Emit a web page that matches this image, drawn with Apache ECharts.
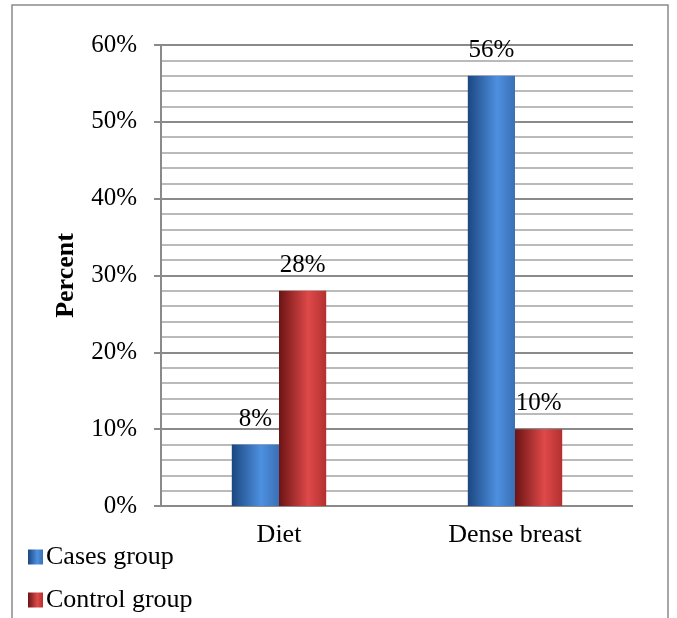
<!DOCTYPE html>
<html>
<head>
<meta charset="utf-8">
<script src="https://cdn.jsdelivr.net/npm/echarts@6/dist/echarts.min.js"></script>
<style>
  html, body { margin: 0; padding: 0; background: #fff; }
  #chart { width: 677px; height: 618px; }
</style>
</head>
<body>
<div id="chart"></div>
<script>
// Risk factors by group (percent)
var categories = ['Diet', 'Dense breast'];
var casesGroup = [8, 56];
var controlGroup = [28, 10];
var seriesNames = ['Cases group', 'Control group'];
var yTicks = [0, 10, 20, 30, 40, 50, 60];

var FONT = '"Liberation Serif", "Times New Roman", serif';

// Horizontal shading that gives the bars a rounded, cylinder-like look
function barGradient(dark, light, edge) {
  return new echarts.graphic.LinearGradient(0, 0, 1, 0, [
    { offset: 0, color: dark },
    { offset: 0.62, color: light },
    { offset: 1, color: edge }
  ]);
}

var chart = echarts.init(document.getElementById('chart'), null, { renderer: 'canvas' });

var labelStyle = {
  show: true,
  position: 'top',
  distance: 13,
  formatter: '{c}%',
  fontFamily: FONT,
  fontSize: 25,
  color: '#000'
};

chart.setOption({
  animation: false,
  backgroundColor: '#fff',
  graphic: [{
    type: 'rect',
    shape: { x: 12, y: 5, width: 656, height: 640 },
    style: { fill: 'none', stroke: '#8a8a8a', lineWidth: 1.5 },
    silent: true,
    z: -1
  }],
  grid: { left: 161, right: 44, top: 45, bottom: 112, containLabel: false },
  legend: {
    orient: 'vertical',
    left: 28,
    top: 544,
    bottom: 0,
    padding: 0,
    itemWidth: 15,
    itemHeight: 15,
    itemGap: 17,
    icon: 'rect',
    textStyle: { fontFamily: FONT, fontSize: 26, lineHeight: 26, color: '#000', padding: [0, 0, 0, -2] },
    data: seriesNames
  },
  xAxis: {
    type: 'category',
    data: categories,
    axisLine: { show: false },
    axisTick: { show: false },
    axisLabel: { fontFamily: FONT, fontSize: 26, color: '#000', margin: 16 }
  },
  yAxis: {
    type: 'value',
    min: yTicks[0],
    max: yTicks[yTicks.length - 1],
    interval: 10,
    name: 'Percent',
    nameLocation: 'middle',
    nameGap: 82,
    nameRotate: 90,
    nameTextStyle: { fontFamily: FONT, fontSize: 26, fontWeight: 'bold', color: '#000' },
    axisLine: { show: true, lineStyle: { color: '#8a8a8a', width: 2 } },
    axisTick: { show: true, length: 7, lineStyle: { color: '#8a8a8a', width: 2 } },
    axisLabel: { formatter: '{value}%', fontFamily: FONT, fontSize: 25, color: '#000', margin: 24 },
    splitLine: { show: true, lineStyle: { color: '#8a8a8a', width: 2 } },
    minorTick: { show: false, splitNumber: 5 },
    minorSplitLine: { show: true, lineStyle: { color: '#bababa', width: 2 } }
  },
  series: [
    {
      name: seriesNames[0],
      type: 'bar',
      data: casesGroup,
      barGap: '0%',
      barCategoryGap: '60%',
      itemStyle: { color: barGradient('#1c4780', '#4d90e0', '#3a70b5') },
      label: labelStyle
    },
    {
      name: seriesNames[1],
      type: 'bar',
      data: controlGroup,
      barGap: '0%',
      barCategoryGap: '60%',
      itemStyle: { color: barGradient('#6c1414', '#df4949', '#b33030') },
      label: labelStyle
    }
  ]
});
</script>
</body>
</html>
